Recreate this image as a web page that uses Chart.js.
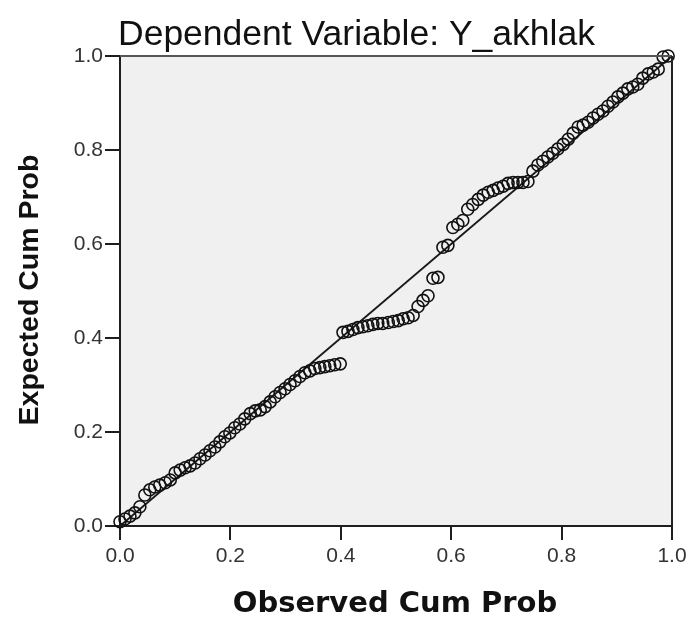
<!DOCTYPE html>
<html>
<head>
<meta charset="utf-8">
<script src="https://cdn.jsdelivr.net/npm/chart.js@4.4.1/dist/chart.umd.min.js"></script>
<style>
  html, body { margin: 0; padding: 0; background: #ffffff; }
  #wrap { width: 692px; height: 617px; }
</style>
</head>
<body>
<div id="wrap"><canvas id="pp" width="692" height="617"></canvas></div>
<script>
// P-P plot values
var observed = [0.000, 0.009, 0.018, 0.027, 0.036, 0.045, 0.054, 0.063, 0.072, 0.082,
  0.091, 0.100, 0.109, 0.118, 0.127, 0.136, 0.145, 0.154, 0.163, 0.172,
  0.181, 0.190, 0.199, 0.208, 0.217, 0.226, 0.236, 0.245, 0.254, 0.263,
  0.272, 0.281, 0.290, 0.299, 0.308, 0.317, 0.326, 0.335, 0.344, 0.353,
  0.362, 0.371, 0.380, 0.389, 0.399, 0.404, 0.413, 0.422, 0.431, 0.440,
  0.449, 0.458, 0.467, 0.476, 0.486, 0.495, 0.504, 0.513, 0.522, 0.531,
  0.540, 0.549, 0.558, 0.567, 0.576, 0.585, 0.594, 0.603, 0.612, 0.621,
  0.630, 0.639, 0.649, 0.658, 0.667, 0.676, 0.685, 0.694, 0.703, 0.712,
  0.721, 0.730, 0.739, 0.748, 0.757, 0.766, 0.775, 0.784, 0.793, 0.803,
  0.812, 0.821, 0.830, 0.839, 0.848, 0.857, 0.866, 0.875, 0.884, 0.893,
  0.902, 0.911, 0.920, 0.929, 0.938, 0.947, 0.957, 0.966, 0.975, 0.984, 0.993];
var expected = [0.009, 0.015, 0.021, 0.028, 0.041, 0.066, 0.077, 0.083, 0.087, 0.092,
  0.098, 0.113, 0.119, 0.124, 0.128, 0.134, 0.143, 0.151, 0.160, 0.168,
  0.179, 0.190, 0.198, 0.209, 0.217, 0.228, 0.239, 0.245, 0.247, 0.254,
  0.264, 0.275, 0.284, 0.292, 0.301, 0.309, 0.318, 0.326, 0.330, 0.335,
  0.337, 0.339, 0.341, 0.343, 0.345, 0.412, 0.414, 0.418, 0.422, 0.424,
  0.426, 0.429, 0.431, 0.431, 0.433, 0.435, 0.437, 0.441, 0.443, 0.448,
  0.467, 0.480, 0.490, 0.527, 0.529, 0.593, 0.597, 0.635, 0.642, 0.650,
  0.674, 0.684, 0.695, 0.704, 0.710, 0.714, 0.719, 0.723, 0.729, 0.731,
  0.731, 0.731, 0.733, 0.755, 0.768, 0.776, 0.785, 0.793, 0.802, 0.812,
  0.823, 0.836, 0.849, 0.853, 0.859, 0.868, 0.876, 0.883, 0.893, 0.902,
  0.913, 0.921, 0.930, 0.934, 0.940, 0.953, 0.962, 0.966, 0.972, 0.998, 1.000];
var refLine = [0, 1];
var tickValues = [0, 0.2, 0.4, 0.6, 0.8, 1.0];

var titleText = 'Dependent Variable: Y_akhlak';
var xTitle = 'Observed Cum Prob';
var yTitle = 'Expected Cum Prob';

var points = [];
for (var i = 0; i < observed.length; i++) {
  points.push({ x: observed[i], y: expected[i] });
}
var diag = [{ x: refLine[0], y: refLine[0] }, { x: refLine[1], y: refLine[1] }];

var axisColor = '#1e1e1e';

var frame = {
  id: 'frame',
  beforeDraw: function (chart) {
    var a = chart.chartArea, ctx = chart.ctx;
    ctx.save();
    ctx.fillStyle = '#f0f0f0';
    ctx.fillRect(a.left, a.top, a.right - a.left, a.bottom - a.top);
    ctx.restore();
  },
  afterDraw: function (chart) {
    var a = chart.chartArea, ctx = chart.ctx;
    ctx.save();
    ctx.strokeStyle = '#555555';
    ctx.lineWidth = 2;
    ctx.beginPath();
    ctx.moveTo(a.left, a.top);
    ctx.lineTo(a.right, a.top);
    ctx.stroke();
    ctx.strokeStyle = '#222222';
    ctx.beginPath();
    ctx.moveTo(a.right, a.top);
    ctx.lineTo(a.right, a.bottom);
    ctx.stroke();

    ctx.fillStyle = '#111111';
    ctx.textBaseline = 'alphabetic';
    ctx.font = '35.5px "Liberation Sans", Arial, sans-serif';
    ctx.textAlign = 'left';
    ctx.fillText(titleText, 118, 45);

    ctx.font = 'bold 29px "DejaVu Sans", Verdana, sans-serif';
    ctx.textAlign = 'center';
    ctx.fillText(xTitle, 395, 612);

    ctx.translate(38, 290);
    ctx.rotate(-Math.PI / 2);
    ctx.font = 'bold 28.5px "Liberation Sans", Arial, sans-serif';
    ctx.fillText(yTitle, 0, 0);
    ctx.restore();
  }
};

function axis(pos, size) {
  return {
    type: 'linear',
    position: pos,
    min: 0,
    max: 1,
    afterBuildTicks: function (s) {
      s.ticks = tickValues.map(function (v) { return { value: v }; });
    },
    afterFit: function (s) {
      if (pos === 'left') { s.width = size; } else { s.height = size; }
    },
    ticks: {
      color: '#333333',
      font: { family: '"Liberation Sans", Arial, sans-serif', size: 21 },
      padding: pos === 'left' ? 2 : 4,
      callback: function (v) { return Number(v).toFixed(1); }
    },
    grid: {
      drawOnChartArea: false,
      drawTicks: true,
      tickLength: pos === 'left' ? 15 : 14,
      color: axisColor,
      lineWidth: 2
    },
    border: { display: true, color: axisColor, width: 2 }
  };
}

new Chart(document.getElementById('pp'), {
  type: 'scatter',
  data: {
    datasets: [
      {
        type: 'line',
        data: diag,
        borderColor: '#1a1a1a',
        borderWidth: 1.8,
        pointRadius: 0,
        fill: false,
        clip: false,
        order: 2
      },
      {
        data: points,
        pointRadius: 6,
        pointStyle: 'circle',
        borderColor: '#111111',
        borderWidth: 1.6,
        backgroundColor: 'rgba(0,0,0,0)',
        clip: false,
        order: 1
      }
    ]
  },
  options: {
    responsive: false,
    animation: false,
    layout: { padding: { top: 56, right: 20, left: 0, bottom: 0 } },
    plugins: {
      legend: { display: false },
      tooltip: { enabled: false },
      title: { display: false }
    },
    scales: {
      x: axis('bottom', 91),
      y: axis('left', 120)
    }
  },
  plugins: [frame]
});
</script>
</body>
</html>
